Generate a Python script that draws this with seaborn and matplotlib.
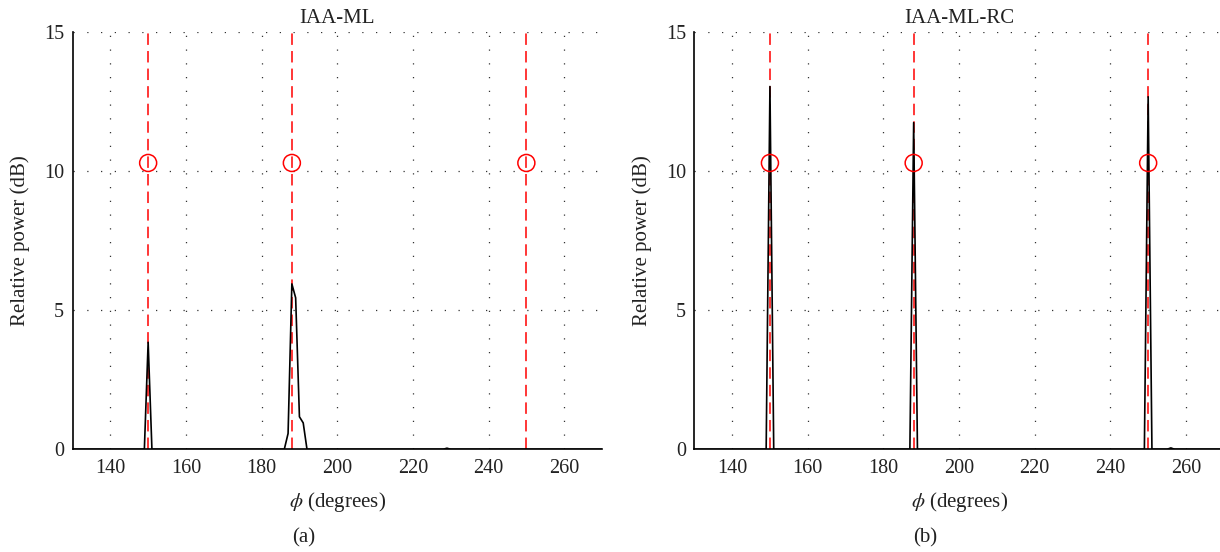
import matplotlib
matplotlib.use("Agg")
import matplotlib.pyplot as plt
import seaborn as sns
import pandas as pd

# Angular spectrum samples (degrees, relative power in dB; zero elsewhere)
phi_ml = [130, 149, 150, 151, 186, 187, 188, 189, 190, 191, 192, 228, 229, 230, 270]
pow_ml = [0, 0, 3.85, 0, 0, 0.57, 5.95, 5.45, 1.17, 0.95, 0, 0, 0.04, 0, 0]

phi_rc = [130, 149, 150, 151, 187, 188, 189, 249, 250, 251, 255, 256, 257, 270]
pow_rc = [0, 0, 13.05, 0, 0, 11.75, 0, 0, 12.68, 0, 0, 0.05, 0, 0]

# True source directions and their nominal power
true_phi = [150, 188, 250]
true_pow = [10.3, 10.3, 10.3]

titles = ["IAA-ML", "IAA-ML-RC"]
captions = ["(a)", "(b)"]
xticks = [140, 160, 180, 200, 220, 240, 260]
yticks = [0, 5, 10, 15]

sns.set_theme(style="white")
plt.rcParams["font.family"] = ["Liberation Serif", "DejaVu Serif"]
plt.rcParams["mathtext.fontset"] = "stix"

W, H = 1220, 552
fig = plt.figure(figsize=(W / 100, H / 100), dpi=100)

ax_w = 529.5 / W
ax_h = 417.0 / H
ax_b = (H - 449.3) / H
lefts = [72.5 / W, 694.3 / W]

spectra = [(phi_ml, pow_ml), (phi_rc, pow_rc)]
truth = pd.DataFrame({"phi": true_phi, "power": true_pow})

for i, (phis, pows) in enumerate(spectra):
    ax = fig.add_axes([lefts[i], ax_b, ax_w, ax_h])
    ax.set_facecolor("white")

    # dotted grid at the tick positions
    for xv in xticks:
        ax.axvline(xv, color="#333333", lw=0.9, ls=(0, (1, 10)), zorder=0)
    for yv in yticks[1:]:
        ax.axhline(yv, color="#333333", lw=0.9, ls=(0, (1, 10)), zorder=0)

    # true directions
    for p in true_phi:
        ax.axvline(p, color="red", lw=1.1, ls=(0, (7.5, 4.0)), zorder=2)

    df = pd.DataFrame({"phi": phis, "power": pows})
    sns.lineplot(data=df, x="phi", y="power", color="black", lw=1.2,
                 estimator=None, sort=False, ax=ax, zorder=3)

    sns.scatterplot(data=truth, x="phi", y="power", ax=ax, s=150,
                    marker="o", facecolor="none", edgecolor="red",
                    linewidth=1.1, zorder=4)

    ax.set_xlim(130, 270)
    ax.set_ylim(0, 15)
    ax.set_xticks(xticks)
    ax.set_yticks(yticks)
    ax.tick_params(direction="in", length=5, width=1, colors="black",
                   labelsize=14.5, labelcolor="#222222")
    ax.tick_params(axis="x", pad=7)
    ax.tick_params(axis="y", pad=6)
    for s in ["top", "right"]:
        ax.spines[s].set_visible(False)
    for s in ["left", "bottom"]:
        ax.spines[s].set_color("black")
        ax.spines[s].set_linewidth(1.2)

    ax.set_title(titles[i], fontsize=15, color="#222222", pad=7)
    ax.set_xlabel(r"$\phi$ (degrees)", fontsize=15, color="#222222")
    ax.set_ylabel("Relative power (dB)", fontsize=15, color="#222222")
    ax.xaxis.set_label_coords(0.5, -0.097)
    ax.yaxis.set_label_coords(-0.080, 0.5)

    cx = (303.5 + 621.8 * i) / W
    fig.text(cx, (H - 538) / H, captions[i], ha="center", va="center",
             fontsize=15, color="#222222")

fig.savefig("out.png", dpi=100, facecolor="white")
